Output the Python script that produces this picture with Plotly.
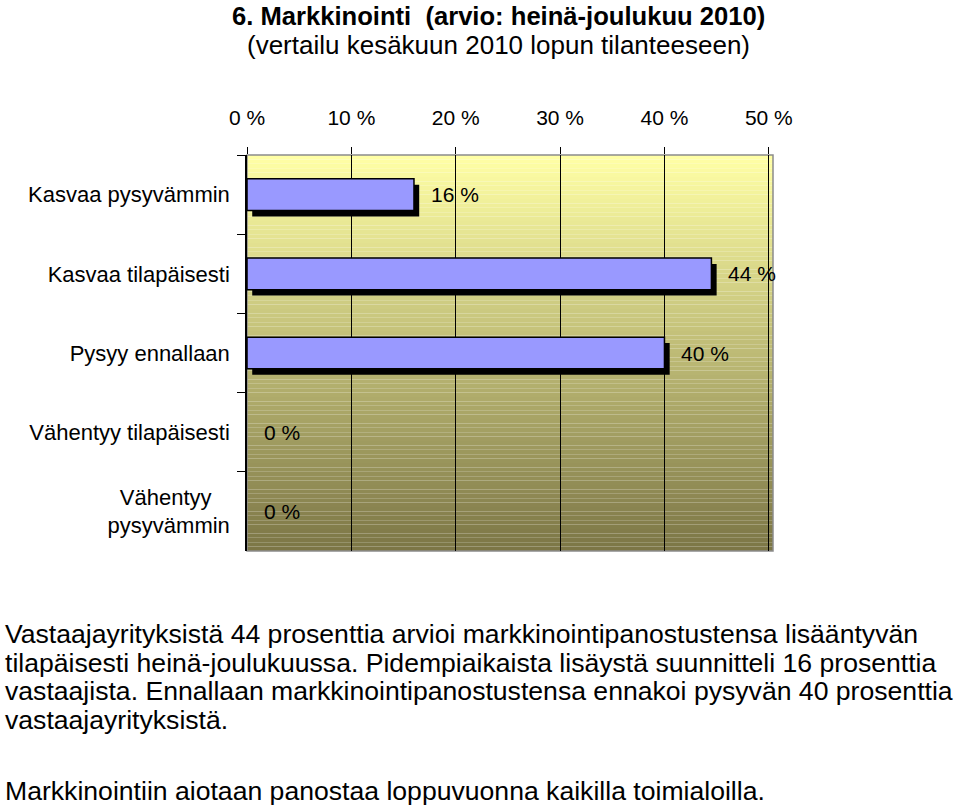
import plotly.graph_objects as go

categories = ["Kasvaa pysyvämmin", "Kasvaa tilapäisesti", "Pysyy ennallaan",
              "Vähentyy tilapäisesti", "Vähentyy\u00a0\u00a0\u00a0<br>pysyvämmin"]
values = [16, 44.5, 40, 0, 0]
value_labels = ["16 %", "44 %", "40 %", "0 %", "0 %"]
tick_vals = [0, 10, 20, 30, 40, 50]
tick_text = ["0 %", "10 %", "20 %", "30 %", "40 %", "50 %"]

title_line1 = "<b>6. Markkinointi  (arvio: heinä-joulukuu 2010)</b>"
title_line2 = "(vertailu kesäkuun 2010 lopun tilanteeseen)"
body_lines = [
    "Vastaajayrityksistä 44 prosenttia arvioi markkinointipanostustensa lisääntyvän",
    "tilapäisesti heinä-joulukuussa. Pidempiaikaista lisäystä suunnitteli 16 prosenttia",
    "vastaajista. Ennallaan markkinointipanostustensa ennakoi pysyvän 40 prosenttia",
    "vastaajayrityksistä.",
    "Markkinointiin aiotaan panostaa loppuvuonna kaikilla toimialoilla.",
]
body_y = [634, 663, 691, 720, 791]

FONT = "Liberation Sans, Arial, sans-serif"
W, H = 959, 805
ML, MR, MT, MB = 247, 186, 155, 254
PW, PH = W - ML - MR, H - MT - MB


def px_to_paper(px, py):
    return (px - ML) / PW, (H - MB - py) / PH


fig = go.Figure()

# shadow
fig.add_trace(go.Bar(
    y=categories, x=values, base=0.5, orientation="h",
    width=0.4, offset=-0.2 + 0.075,
    marker=dict(color="black", line=dict(width=0)),
    hoverinfo="skip", showlegend=False,
))
# bars
fig.add_trace(go.Bar(
    y=categories, x=values, orientation="h",
    width=0.4, offset=-0.2,
    marker=dict(color="#9999FF",
                line=dict(color="black", width=[1.5 if v > 0 else 0 for v in values])),
    showlegend=False,
))

# gradient background
n = 90
top = (255, 255, 165)
bot = (124, 118, 70)
for i in range(n):
    t = i / (n - 1)
    c = tuple(round(top[k] + (bot[k] - top[k]) * t) for k in range(3))
    fig.add_shape(type="rect", xref="x domain", yref="y domain",
                  x0=0, x1=1, y0=1 - i / n, y1=1 - (i + 1) / n,
                  fillcolor="rgb(%d,%d,%d)" % c, line=dict(width=0), layer="below")
fig.add_shape(type="rect", xref="x domain", yref="y domain", x0=0, x1=1, y0=0, y1=1,
              line=dict(color="#8c8c8c", width=1.5), layer="below")

annotations = []
for cat, v, lab in zip(categories, values, value_labels):
    annotations.append(dict(x=v, y=cat, xref="x", yref="y", text=lab, showarrow=False,
                            xanchor="left", xshift=15, font=dict(size=21, color="black", family=FONT)))
tx, ty1 = px_to_paper(498, 16)
_, ty2 = px_to_paper(498, 45)
annotations.append(dict(x=tx, y=ty1, xref="paper", yref="paper", text=title_line1,
                        showarrow=False, xanchor="center", yanchor="middle",
                        font=dict(size=25.6, color="black", family=FONT)))
annotations.append(dict(x=tx, y=ty2, xref="paper", yref="paper", text=title_line2,
                        showarrow=False, xanchor="center", yanchor="middle",
                        font=dict(size=26, color="black", family=FONT)))
for line, yy in zip(body_lines, body_y):
    bx, by = px_to_paper(3, yy)
    annotations.append(dict(x=bx, y=by, xref="paper", yref="paper", text=line,
                            showarrow=False, xanchor="left", yanchor="middle",
                            font=dict(size=26.6, color="black", family=FONT)))

fig.update_layout(
    width=W, height=H, autosize=False,
    margin=dict(l=ML, r=MR, t=MT, b=MB, pad=0),
    paper_bgcolor="white", plot_bgcolor="rgba(0,0,0,0)",
    barmode="overlay", bargap=0.5,
    font=dict(family=FONT, color="black", size=18),
    annotations=annotations,
    xaxis=dict(side="top", range=[0, 50.4], tickvals=tick_vals, ticktext=tick_text,
               showgrid=True, gridcolor="black", gridwidth=1, zeroline=False,
               ticks="outside", ticklen=7, tickcolor="black", showline=False,
               ticklabelstandoff=14, tickfont=dict(size=21)),
    yaxis=dict(autorange="reversed", type="category", tickson="boundaries",
               ticks="outside", ticklen=8, tickcolor="black", showline=True,
               linecolor="black", linewidth=1.5, showgrid=False,
               ticklabelstandoff=11, tickfont=dict(size=22)),
)

fig.write_html("out.html")
